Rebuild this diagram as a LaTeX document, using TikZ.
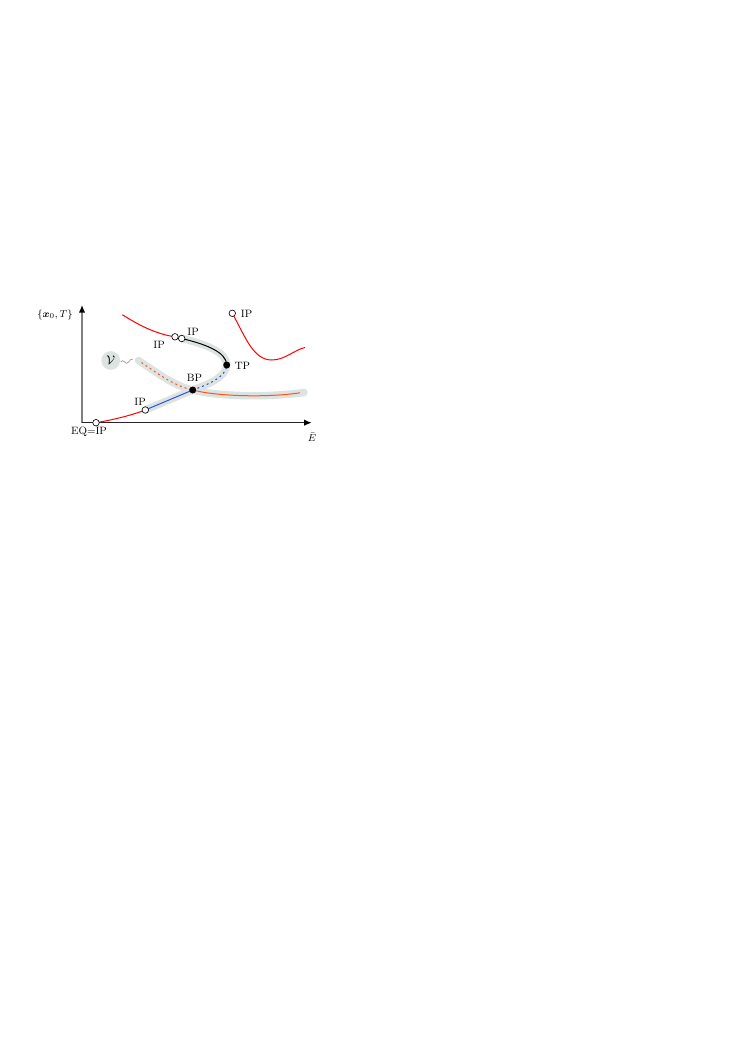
\documentclass[tikz,border=0pt]{standalone}
\usepackage{amsmath}
\usetikzlibrary{arrows.meta}
\definecolor{bandc}{RGB}{220,227,225}
\definecolor{orng}{RGB}{255,85,30}
\definecolor{blu}{RGB}{45,80,230}
\begin{document}
\begin{tikzpicture}[x=0.8pt,y=-0.8pt,
  lbl/.style={font=\fontsize{8.5}{10}\selectfont, inner sep=0pt},
  opendot/.style={circle,draw=black,fill=white,line width=0.5pt,minimum size=5.2pt,inner sep=0pt},
  fulldot/.style={circle,fill=black,minimum size=5.6pt,inner sep=0pt},
  band/.style={bandc,line width=6pt,line cap=round},
  crv/.style={line width=0.8pt},
  axisline/.style={line width=0.9pt,-{Latex[length=6pt,width=5pt,black]}}]
\useasboundingbox (0,0) rectangle (744,1051);
% points
\coordinate (O) at (82,422.7);
\coordinate (Ytop) at (82,305);
\coordinate (Xend) at (311.7,422.7);
\coordinate (EQ) at (96,422.7);
\coordinate (IPa) at (145.3,410);
\coordinate (BP) at (192.7,390);
\coordinate (TP) at (226.7,365);
\coordinate (IPb) at (181.7,338.5);
\coordinate (IPc) at (175,336.8);
\coordinate (Rs) at (122.3,314.7);
\coordinate (Vs) at (138.5,360.5);
\coordinate (Ve) at (304,392.5);
\coordinate (Oe) at (300,392.8);
\coordinate (Os) at (141.5,362.5);
\coordinate (IPd) at (232.3,313.3);
\coordinate (Rmin) at (271.7,360);
\coordinate (Re) at (305,347.5);
% bands
\draw[band] (Vs) .. controls (160,375) and (175,386) .. (BP)
  .. controls (215,396) and (265,398) .. (Ve);
\draw[band] (IPa) -- (BP) .. controls (207,385) and (226.7,377) .. (TP)
  .. controls (226.7,352) and (205,344) .. (IPb);
% axes
\draw[axisline,gray] (O) -- (Ytop);
\draw[axisline,black!85] (O) -- (Xend);
% curves
\draw[crv,red] (EQ) .. controls (115,419.5) and (132,415) .. (IPa);
\draw[crv,blu] (IPa) -- (BP);
\draw[crv,blu,dash pattern=on 1.6pt off 2.4pt] (BP) .. controls (207,385) and (226.7,377) .. (TP);
\draw[crv,black] (IPb) .. controls (205,344) and (226.7,352) .. (TP);
\draw[crv,red] (Rs) .. controls (137,324) and (155,334) .. (IPc);
\draw[crv,orng,dash pattern=on 1.6pt off 2.4pt] (Os) .. controls (161,376) and (175,386) .. (BP);
\draw[crv,orng] (BP) .. controls (215,396) and (265,398) .. (Oe);
\draw[crv,red] (IPd) .. controls (245,336) and (253,360) .. (Rmin)
  .. controls (285,360) and (294,350) .. (Re);
% V marker
\node[circle,fill=bandc,minimum size=15pt,inner sep=0pt] (V) at (110.7,360.5) {$\mathcal{V}$};
\coordinate (Sq1) at (120.5,362);
\coordinate (Sq2) at (133,359);
\draw[gray,line width=0.4pt] (Sq1) .. controls (123.5,357) and (126,367) .. (128.5,362) .. controls (130,359.5) and (131.5,359) .. (Sq2);
% dots
\node[opendot] (nEQ) at (EQ) {};
\node[opendot] (nIPa) at (IPa) {};
\node[opendot] (nIPb) at (IPb) {};
\node[opendot] (nIPc) at (IPc) {};
\node[opendot] (nIPd) at (IPd) {};
\node[fulldot] (nBP) at (BP) {};
\node[fulldot] (nTP) at (TP) {};
% labels
\node[lbl] (tEQ) at (89,431.5) {EQ=IP};
\node[lbl] (tIPa) at (140,401.5) {IP};
\node[lbl] (tBP) at (194.5,377.5) {BP};
\node[lbl] (tTP) at (242.5,365.5) {TP};
\node[lbl] (tIPb) at (193,331.5) {IP};
\node[lbl] (tIPc) at (159,344.5) {IP};
\node[lbl] (tIPd) at (246.5,313.5) {IP};
\node[lbl] (tE) at (312,437) {$\bar{E}$};
\node[lbl] (tY) at (55,315) {$\{\boldsymbol{x}_0,T\}$};
\end{tikzpicture}
\end{document}
